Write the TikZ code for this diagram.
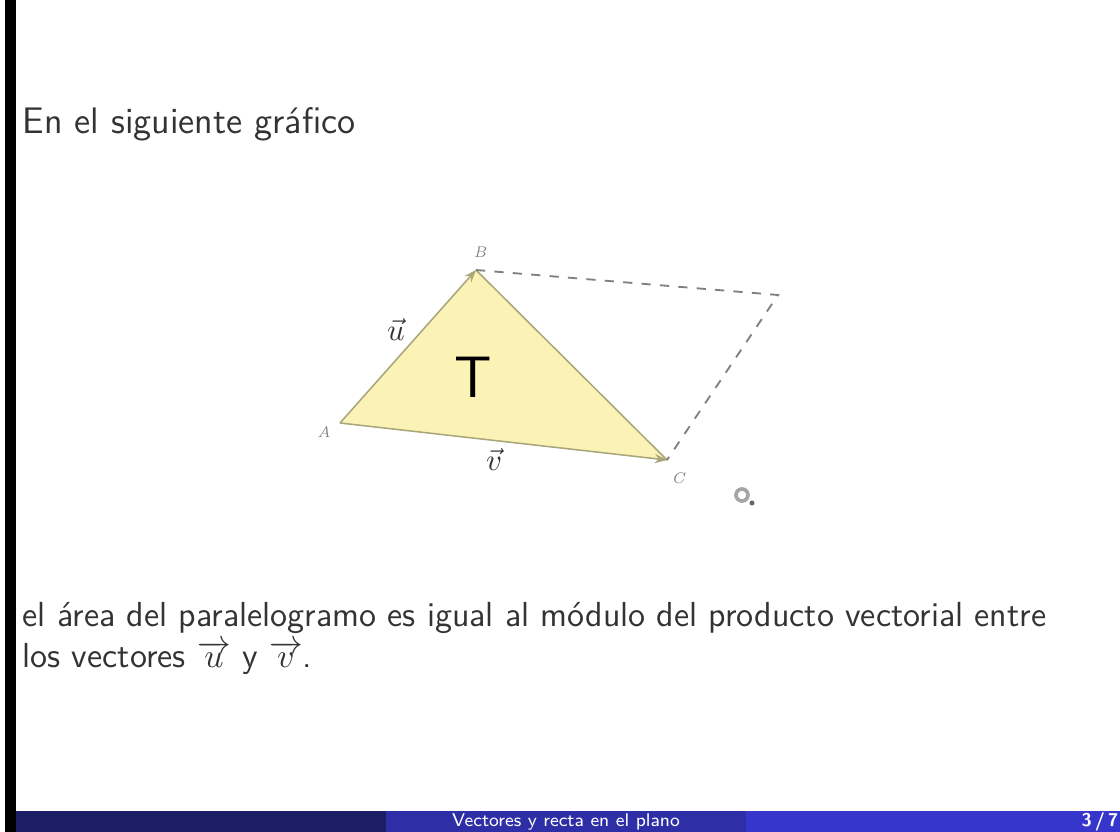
\documentclass[tikz,border=0pt]{standalone}
\usepackage{amsmath}
\usetikzlibrary{arrows.meta}
\definecolor{navyA}{HTML}{1E1E66}
\definecolor{navyB}{HTML}{2E2EA6}
\definecolor{navyC}{HTML}{3636CC}
\definecolor{trifill}{HTML}{FBF3B6}
\definecolor{triedge}{HTML}{A8A67A}
\definecolor{txt}{HTML}{333333}
\tikzset{
  px/.style={x=0.3252pt,y=-0.3252pt},
  body/.style={font=\sffamily\fontsize{11.3}{13.2}\selectfont, text=txt, inner sep=0pt, anchor=base west, align=left},
  ptlabel/.style={font=\fontsize{5}{6}\selectfont\itshape, text=gray, inner sep=1pt},
  edge/.style={draw=triedge, line width=0.5pt},
  vecarrow/.style={edge, -{Stealth[length=4pt,width=3pt]}},
  dashline/.style={draw=gray, dashed, line width=0.6pt}
}
\begin{document}
\begin{tikzpicture}[px]
\useasboundingbox (0,0) rectangle (1120,832);
\fill[white] (0,0) rectangle (1120,832);
\fill[black] (5,0) rectangle (16,832);
% footer
\fill[navyA] (16,811) rectangle (386,832);
\fill[navyB] (386,811) rectangle (746,832);
\fill[navyC] (746,811) rectangle (1120,832);
\node[font=\sffamily\fontsize{6}{7}\selectfont, text=white] (foot) at (566,822) {Vectores y recta en el plano};
\node[font=\sffamily\bfseries\fontsize{6}{7}\selectfont, text=white] (page) at (1100,822) {3\,/\,7};
% texts
\node[body, font=\sffamily\fontsize{12}{14}\selectfont] (title) at (22,134) {En el siguiente gr\'afico};
\node[body] (para) at (22,668) {el \'area del paralelogramo es igual al m\'odulo del producto vectorial entre\\[0.3pt]
los vectores $\overrightarrow{u}$ y $\overrightarrow{v}$.};
% figure
\coordinate (A) at (340,423);
\coordinate (B) at (476,270);
\coordinate (C) at (667,460);
\coordinate (D) at (778,295);
\fill[trifill] (A) -- (B) -- (C) -- cycle;
\draw[edge] (B) -- (C);
\draw[vecarrow] (A) -- (B);
\draw[vecarrow] (A) -- (C);
\draw[dashline] (B) -- (D) -- (C);
\node[ptlabel] (lA) at (324,432) {A};
\node[ptlabel] (lB) at (480,252) {B};
\node[ptlabel] (lC) at (678,478) {C};
\node[font=\fontsize{10}{11}\selectfont, text=txt] (lu) at (396,330) {$\vec{u}$};
\node[font=\fontsize{10}{11}\selectfont, text=txt] (lv) at (494,460) {$\vec{v}$};
\node[font=\sffamily\fontsize{19}{21}\selectfont] (T) at (473,377) {T};
\draw[gray!70, line width=1.2pt] (742,495) circle (6);
\fill[gray!80!black] (752,503) circle (2.5);
\end{tikzpicture}
\end{document}
